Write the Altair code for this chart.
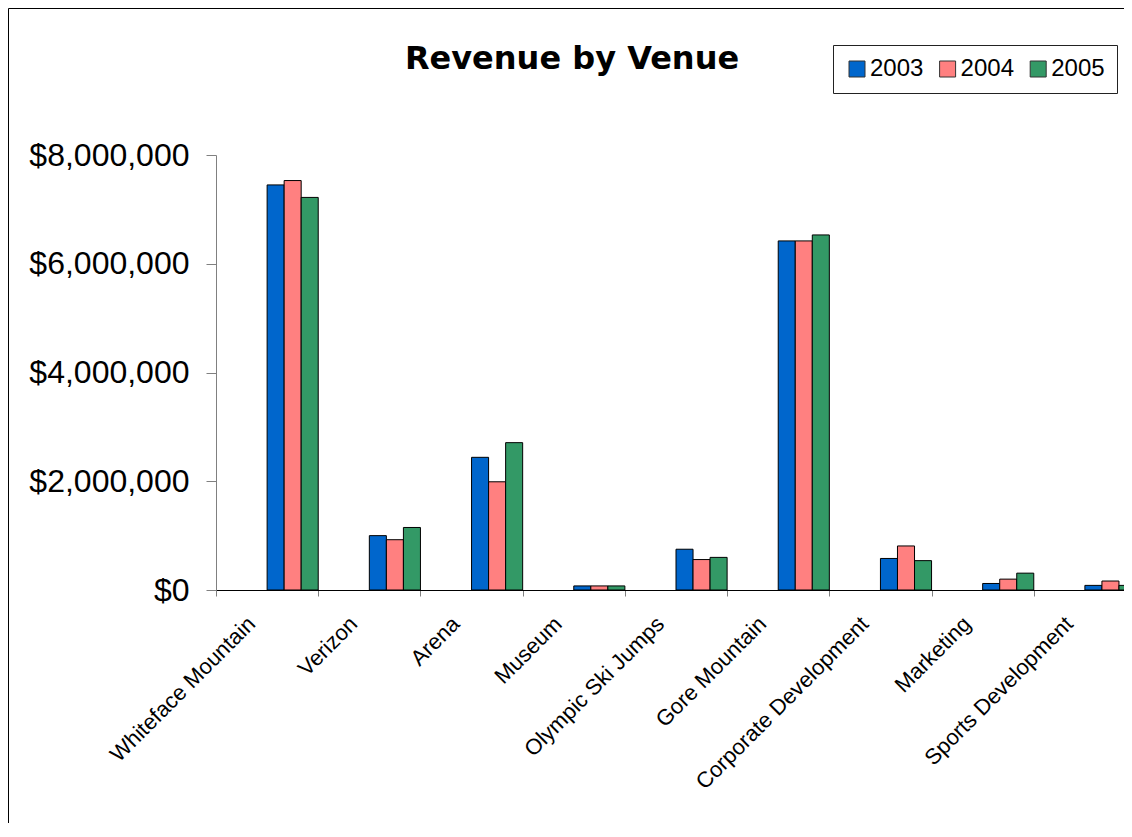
import altair as alt
import pandas as pd

venues = ["Whiteface Mountain", "Verizon", "Arena", "Museum", "Olympic Ski Jumps",
          "Gore Mountain", "Corporate Development", "Marketing", "Sports Development"]
years = ["2003", "2004", "2005"]
rev_2003 = [7450000, 1000000, 2440000, 75000, 750000, 6420000, 580000, 120000, 85000]
rev_2004 = [7530000, 925000, 1990000, 75000, 560000, 6420000, 810000, 200000, 165000]
rev_2005 = [7220000, 1150000, 2710000, 75000, 600000, 6530000, 540000, 310000, 85000]
colors = ["#0066CC", "#FF8080", "#339966"]
y_ticks = [0, 2000000, 4000000, 6000000, 8000000]

rows = []
for yr, vals in zip(years, [rev_2003, rev_2004, rev_2005]):
    for v, r in zip(venues, vals):
        rows.append({"Venue": v, "Year": yr, "Revenue": r})
df = pd.DataFrame(rows)

FONT = "Liberation Sans"

bars = alt.Chart(df).mark_bar(stroke="black", strokeWidth=1).encode(
    x=alt.X("Venue:N", sort=venues, title=None,
            scale=alt.Scale(range=[0, 920], paddingInner=0, paddingOuter=0),
            axis=alt.Axis(labelAngle=-45, labelAlign="right", labelBaseline="middle",
                          labelFont=FONT, labelFontSize=22, labelColor="black",
                          labelPadding=24, labelOffset=-16, labelLimit=400,
                          labelOverlap=False, tickBand="extent", tickSize=6,
                          tickColor="#808080", domainColor="black", grid=False)),
    xOffset=alt.XOffset("Year:N", scale=alt.Scale(domain=["_a", "_b", "_c"] + years)),
    y=alt.Y("Revenue:Q", title=None,
            scale=alt.Scale(domain=[0, 8000000], nice=False),
            axis=alt.Axis(values=y_ticks, format="$,.0f", labelFont=FONT,
                          labelFontSize=32, labelColor="black", labelPadding=17,
                          tickSize=10, tickColor="#808080", domainColor="#808080",
                          grid=False)),
    color=alt.Color("Year:N", scale=alt.Scale(domain=years, range=colors),
                    legend=alt.Legend(title=None, orient="none", legendX=617, legendY=-110,
                                      direction="horizontal", symbolType="square",
                                      symbolSize=256, symbolStrokeColor="#333333",
                                      symbolStrokeWidth=1, labelFont=FONT, labelFontSize=24,
                                      labelColor="black", labelOffset=1, columnPadding=11.6,
                                      padding=12, strokeColor="#222222", fillColor="white",
                                      labelLimit=200)),
)

frame_df = pd.DataFrame({"k": [0]})
frame_left = alt.Chart(frame_df).mark_rule(color="black", strokeWidth=1).encode(
    x=alt.value(-207.5), y=alt.value(-146.5), y2=alt.value(720))
frame_top = alt.Chart(frame_df).mark_rule(color="black", strokeWidth=1).encode(
    x=alt.value(-207.5), x2=alt.value(960), y=alt.value(-146.5))

chart = alt.layer(frame_left, frame_top, bars).properties(
    width=908, height=435,
    title=alt.TitleParams("Revenue by Venue", font="DejaVu Sans", fontSize=32,
                          fontWeight="bold", color="black", anchor="middle",
                          frame="group", dx=-98, offset=0, dy=93, baseline="alphabetic"),
    autosize=alt.AutoSizeParams(type="none"),
    padding={"left": 208, "top": 147, "right": 0, "bottom": 233},
    background="white",
).configure_view(strokeWidth=0)

chart.save("out.html", embed_options={"renderer": "svg", "actions": False})
